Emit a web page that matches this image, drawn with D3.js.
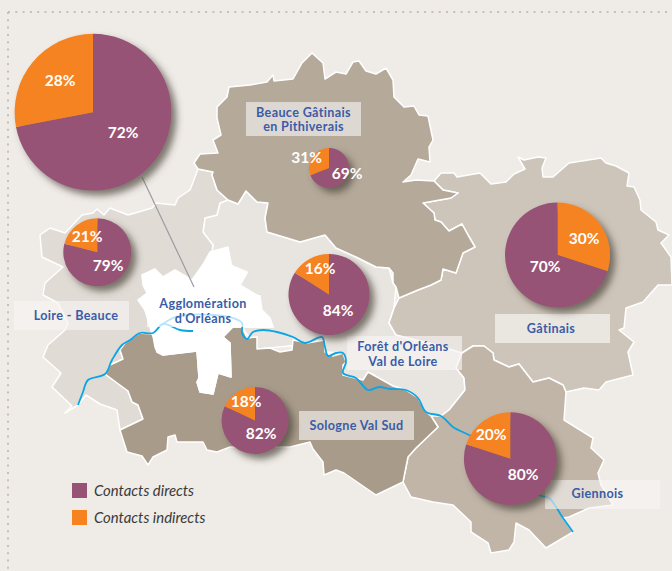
<!DOCTYPE html>
<html><head><meta charset="utf-8">
<script src="https://cdnjs.cloudflare.com/ajax/libs/d3/7.8.5/d3.min.js"></script>
<style>html,body{margin:0;padding:0;background:#efebe7}svg{display:block}text{font-family:Lato,"Open Sans",sans-serif}</style>
</head><body><svg id="c" width="672" height="571"></svg>
<script>
// DATA
const zones = ["Agglomération d'Orléans","Loire - Beauce","Beauce Gâtinais en Pithiverais","Gâtinais","Forêt d'Orléans Val de Loire","Sologne Val Sud","Giennois"];
const direct = [72,79,69,70,84,82,80];
const indirect = [28,21,31,30,16,18,20];
const legendLabels = ["Contacts directs","Contacts indirects"];

// LAYOUT
const colors = {direct:"#965374", indirect:"#f68320"};
const pieLayout = [
 {c:[93,112.2],r:78.4,first:"direct",l:[[123,133],[60,81]]},
 {c:[97.3,252.3],r:34,first:"direct",l:[[108,266],[87,237]]},
 {c:[329,168],r:20,first:"direct",l:[[347,174],[306.5,158]]},
 {c:[557.5,255],r:52.5,first:"indirect",l:[[545,267],[584,239]]},
 {c:[329,294.5],r:40.5,first:"direct",l:[[338,311],[320,269]]},
 {c:[255,420.5],r:33.5,first:"direct",l:[[261,434],[246,402]]},
 {c:[510.3,458.7],r:46.4,first:"direct",l:[[523,475],[491,435]]}
];
const boxes = [
 {x:147,y:295,w:114,h:32,a:.7,lines:["Agglomération","d'Orléans"],cx:203,ys:[304,318.2],fill:"#ffffff"},
 {x:14,y:301,w:115,h:29,a:.65,lines:["Loire - Beauce"],cx:76,ys:[316],fill:"#f7f5f3"},
 {x:246,y:102,w:115,h:34,a:.75,lines:["Beauce Gâtinais","en Pithiverais"],cx:303.5,ys:[112.4,126.6],fill:"#ece8e4"},
 {x:495,y:314,w:115,h:29,a:.75,lines:["Gâtinais"],cx:551,ys:[329],fill:"#f3f0ec"},
 {x:347,y:336,w:115,h:34,a:.65,lines:["Forêt d'Orléans","Val de Loire"],cx:403,ys:[347,361.2],fill:"#f7f5f3"},
 {x:299,y:411,w:115,h:29,a:.7,lines:["Sologne Val Sud"],cx:356.5,ys:[425.5],fill:"#efebe7"},
 {x:545,y:480,w:115,h:29,a:.6,lines:["Giennois"],cx:597.5,ys:[494],fill:"#f7f5f3"}
];

// Map outlines
const foret = [[205,218],[217,215],[220,203],[228,200],[238,204],[246,191],[257,202],[268,203],[265,218],[267,232],[287,238],[300,242],[325,235],[336,248],[356,257],[376,267],[389,268],[393,283],[396,287],[394,308],[389,323],[396,335],[440,346],[462,353],[456,368],[464,378],[465,390],[449,410],[441,416],[431,416],[426,412],[418,398],[406,390],[393,386],[368,372],[363,380],[343,375],[343,353],[325,352],[300,345],[257,349],[242,327],[273,327],[268,317],[260,313],[260,297],[240,285],[247,273],[232,267],[228,248],[212,252],[213,245],[203,232]];
const loireBeauce = [[40,235],[50,228],[65,233],[82,215],[93,213],[97,209],[104,215],[110,208],[128,215],[152,208],[156,203],[175,205],[178,198],[190,190],[198,169],[213,172],[212,175],[217,190],[228,200],[220,203],[217,215],[205,218],[203,232],[213,245],[212,252],[192,280],[142,300],[152,334],[140,333],[125,343],[120,350],[123,359],[110,365],[105,374],[128,391],[132,402],[138,405],[143,419],[120,430],[117,410],[100,404],[86,395],[78,405],[65,413],[72,406],[52,387],[61,373],[43,357],[48,345],[65,330],[68,323],[58,303],[43,295],[45,283],[63,267],[42,257]];
const gatinais = [[434,181],[441,173],[454,173],[457,177],[480,173],[491,184],[506,182],[514,174],[525,169],[518,157],[524,160],[538,157],[546,158],[542,168],[543,177],[553,177],[569,163],[601,158],[606,163],[616,166],[629,173],[627,186],[634,187],[640,200],[641,210],[656,222],[658,230],[669,235],[661,243],[671,257],[672,285],[658,285],[643,302],[626,308],[624,328],[619,330],[634,342],[628,352],[633,375],[606,382],[599,390],[584,388],[566,392],[563,385],[549,378],[533,382],[519,364],[509,367],[494,360],[493,353],[484,346],[473,346],[462,353],[440,346],[396,335],[389,323],[394,308],[399,298],[418,290],[431,285],[441,280],[443,269],[456,273],[463,253],[475,247],[468,235],[462,224],[449,231],[441,222],[435,220],[434,213],[423,203],[451,198],[458,193],[443,190]];
const pithiverais = [[194,163],[200,154],[218,153],[213,140],[221,135],[217,118],[217,107],[227,97],[229,87],[250,85],[267,82],[273,75],[274,81],[293,79],[302,63],[312,53],[323,63],[325,79],[336,72],[346,74],[353,62],[359,61],[366,71],[376,74],[386,68],[393,80],[394,97],[404,107],[414,106],[419,115],[428,116],[433,140],[429,147],[430,162],[418,159],[411,175],[403,182],[416,180],[434,181],[443,190],[458,193],[451,198],[423,203],[434,213],[435,220],[441,222],[449,231],[462,224],[468,235],[475,247],[463,253],[456,273],[443,269],[441,280],[431,285],[418,290],[399,298],[396,287],[393,283],[393,273],[389,268],[376,267],[356,257],[336,248],[325,235],[300,242],[287,238],[267,232],[265,218],[268,203],[257,202],[246,191],[238,204],[228,200],[217,190],[212,175],[213,172],[198,169]];
const giennois = [[462,353],[473,346],[484,346],[493,353],[494,360],[509,367],[519,364],[533,382],[549,378],[563,385],[566,392],[564,420],[593,438],[591,448],[604,460],[598,473],[601,485],[613,505],[589,508],[569,517],[563,518],[573,532],[546,548],[529,530],[516,523],[514,542],[509,550],[491,553],[488,543],[471,532],[471,522],[453,505],[433,502],[411,497],[403,482],[408,457],[416,448],[438,427],[431,416],[441,416],[449,410],[465,390],[464,378],[456,368]];
const sologne = [[105,374],[128,391],[132,402],[138,405],[143,419],[120,430],[127,452],[142,456],[148,465],[153,457],[167,450],[168,437],[175,435],[177,442],[203,442],[207,450],[217,452],[230,447],[290,447],[310,442],[313,449],[323,462],[324,475],[336,470],[344,473],[376,495],[403,482],[408,457],[416,448],[438,427],[431,416],[426,412],[418,398],[406,390],[393,386],[368,372],[363,380],[343,375],[343,365],[346,362],[343,353],[333,356],[325,352],[325,340],[307,343],[293,340],[292,350],[280,352],[270,348],[257,349],[257,337],[247,338],[242,327],[232,327],[223,337],[230,343],[231,377],[218,373],[213,394],[200,392],[197,382],[199,378],[197,351],[163,355],[157,352],[155,340],[152,334],[140,333],[125,343],[120,350],[123,359],[110,365]];
const agglo = [[142,275],[155,269],[163,277],[175,270],[192,280],[200,270],[210,252],[228,247],[230,265],[247,272],[238,285],[260,297],[262,310],[270,318],[273,327],[233,327],[223,337],[230,343],[231,377],[218,373],[213,394],[200,392],[197,382],[199,378],[197,351],[163,355],[157,352],[155,347],[152,330],[147,313],[138,300],[147,293],[143,285]];
const riverMain = [[78,405],[83,392],[88,380],[105,374],[112,360],[122,345],[130,340],[140,333],[153,333],[163,324],[180,330],[193,331]];
const riverUpper = [[163,324],[173,318],[187,315],[213,315],[233,318],[242,323],[242,333],[247,339],[253,332],[263,330],[277,332],[293,337],[305,343],[322,337],[325,347],[328,356],[336,353],[343,353],[346,362],[343,373],[356,378],[368,390],[379,387],[391,389],[406,390],[418,398],[426,412],[441,416],[453,427],[469,435],[500,450],[539,495],[549,498],[563,518],[573,532]];

const svg = d3.select("#c");
const x = d3.scaleIdentity(), y = d3.scaleIdentity();
const shape = d3.line().x(d=>x(d[0])).y(d=>y(d[1]));
const closed = d3.line().x(d=>x(d[0])).y(d=>y(d[1])).curve(d3.curveLinearClosed);
const flow = d3.line().x(d=>x(d[0])).y(d=>y(d[1])).curve(d3.curveCatmullRom.alpha(.5));

const defs = svg.append("defs");
const f = defs.append("filter").attr("id","sh").attr("x","-30%").attr("y","-30%").attr("width","170%").attr("height","170%");
f.append("feDropShadow").attr("dx",5).attr("dy",5).attr("stdDeviation",3.5).attr("flood-color","#4c463c").attr("flood-opacity",.7);

// Frame
svg.append("path").attr("d",shape([[8,12],[672,12]])).attr("stroke","#c9c0b2").attr("stroke-width",2).attr("stroke-dasharray","2 5.3").attr("fill","none");
svg.append("path").attr("d",shape([[8,12],[8,571]])).attr("stroke","#c9c0b2").attr("stroke-width",2).attr("stroke-dasharray","2 5.3").attr("fill","none");

// Regions
[[foret,"#e8e4df"],[loireBeauce,"#e0dbd5"],[gatinais,"#cec5ba"],[pithiverais,"#b5a99a"],[giennois,"#c1b5a7"],[sologne,"#a89b8a"],[agglo,"#ffffff"]].forEach(([p,c])=>{
  svg.append("path").attr("d",closed(p)).attr("fill",c).attr("stroke","#ffffff").attr("stroke-width",1.5).attr("stroke-linejoin","round");
});

// River
[riverMain,riverUpper].forEach(p=>svg.append("path").attr("d",flow(p)).attr("fill","none").attr("stroke","#0aa5e6").attr("stroke-width",1.8).attr("stroke-linejoin","round"));

// Leader line
svg.append("path").attr("d",shape([[142,177],[194,287]])).attr("stroke","#9a9ca3").attr("stroke-width",1.2).attr("fill","none");

// Labels
zones.forEach((z,i)=>{
  const b = boxes[i];
  svg.append("rect").attr("x",b.x).attr("y",b.y).attr("width",b.w).attr("height",b.h).attr("fill",b.fill).attr("fill-opacity",b.a);
  b.lines.forEach((t,j)=>svg.append("text").attr("x",b.cx).attr("y",b.ys[j]).attr("dy","0.35em").attr("text-anchor","middle")
    .attr("font-size",12.6).attr("letter-spacing","0.35px").attr("font-weight",700).attr("fill","#3a5ca8").text(t));
});

// Pies
const arc = d3.arc().innerRadius(0);
zones.forEach((z,i)=>{
  const L = pieLayout[i];
  const vals = L.first==="direct"
    ? [{k:"direct",v:direct[i]},{k:"indirect",v:indirect[i]}]
    : [{k:"indirect",v:indirect[i]},{k:"direct",v:direct[i]}];
  const g = svg.append("g").attr("transform",`translate(${L.c[0]},${L.c[1]})`).attr("filter","url(#sh)");
  g.selectAll("path").data(d3.pie().sort(null).value(d=>d.v)(vals)).join("path")
    .attr("d",d=>arc.outerRadius(L.r)(d)).attr("fill",d=>colors[d.data.k]);
});
zones.forEach((z,i)=>{
  const L = pieLayout[i];
  [direct[i],indirect[i]].forEach((v,j)=>svg.append("text").attr("x",L.l[j][0]).attr("y",L.l[j][1]).attr("dy","0.35em")
    .attr("text-anchor","middle").attr("font-size",15.5).attr("font-weight",700).attr("fill","#fff").text(v+"%"));
});

// Legend
legendLabels.forEach((t,i)=>{
  const yy = d3.scaleLinear().domain([0,1]).range([483,510])(i);
  svg.append("rect").attr("x",72).attr("y",yy).attr("width",15).attr("height",15).attr("fill",i?colors.indirect:colors.direct);
  svg.append("text").attr("x",94).attr("y",yy+7.5).attr("dy","0.35em").attr("font-size",14.9).attr("font-style","italic").attr("fill","#3a3a3a").text(t);
});
</script></body></html>
